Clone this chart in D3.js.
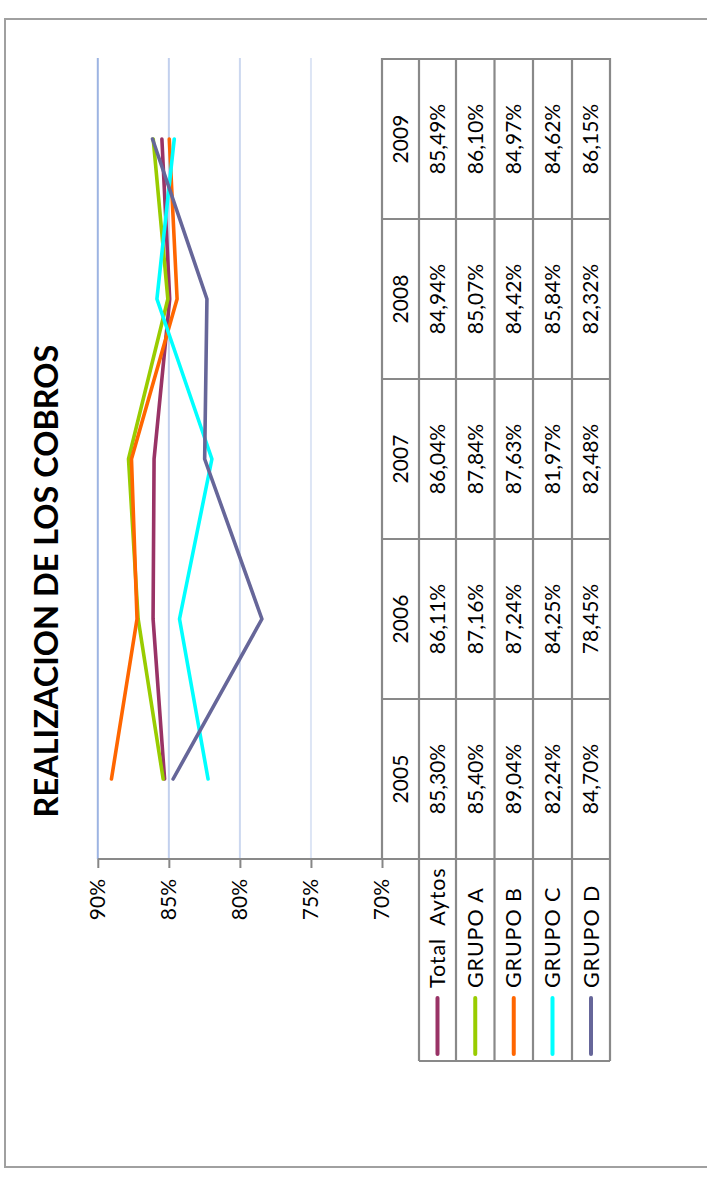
<!DOCTYPE html>
<html>
<head>
<meta charset="utf-8">
<script src="https://cdn.jsdelivr.net/npm/d3@7"></script>
<style>
  html, body { margin: 0; padding: 0; background: #ffffff; }
  svg { display: block; }
  text { font-family: Lato, "Open Sans", sans-serif; fill: #000; }
  .leg { white-space: pre; }
</style>
</head>
<body>
<svg id="chart" width="707" height="1178"></svg>
<script>
// ---- data ----
const years = ["2005", "2006", "2007", "2008", "2009"];
const seriesNames = ["Total  Aytos", "GRUPO A", "GRUPO B", "GRUPO C", "GRUPO D"];
const totalAytos = [85.30, 86.11, 86.04, 84.94, 85.49];
const grupoA = [85.40, 87.16, 87.84, 85.07, 86.10];
const grupoB = [89.04, 87.24, 87.63, 84.42, 84.97];
const grupoC = [82.24, 84.25, 81.97, 85.84, 84.62];
const grupoD = [84.70, 78.45, 82.48, 82.32, 86.15];
const tickValues = [70, 75, 80, 85, 90];
const title = "REALIZACION DE LOS COBROS";

const seriesValues = [totalAytos, grupoA, grupoB, grupoC, grupoD];
const seriesColors = ["#993366", "#99cc00", "#ff6600", "#00ffff", "#666699"];
const gridColors = {70: "#868686", 75: "#dde5f5", 80: "#ccd8f0", 85: "#c2d0ee", 90: "#9db4e2"};

const svg = d3.select("#chart");
const W = 707, H = 1178;

// whole chart is drawn unrotated, then turned 90deg counter-clockwise
const g = svg.append("g").attr("transform", `translate(0,${H}) rotate(-90)`);

// outer frame
g.append("rect")
  .attr("x", 11).attr("y", 5).attr("width", 1148).attr("height", 760)
  .attr("fill", "#fff").attr("stroke", "#a0a0a0").attr("stroke-width", 2);

// scales
const x = d3.scaleBand().domain(years).range([319, 1119]).padding(0);
const y = d3.scaleLinear().domain([70, 90]).range([382, 97.8]);

// gridlines
g.append("g").selectAll("line").data(tickValues.filter(t => t !== 70)).join("line")
  .attr("x1", 319).attr("x2", 1120)
  .attr("y1", d => y(d)).attr("y2", d => y(d))
  .attr("stroke", d => gridColors[d]).attr("stroke-width", 2);

// value axis
const yAxis = d3.axisLeft(y).tickValues(tickValues).tickSize(9).tickPadding(11)
  .tickFormat(d => d + "%");
const ya = g.append("g").attr("transform", "translate(319,0)").call(yAxis);
ya.select(".domain").remove();
ya.selectAll(".tick line").attr("stroke", "#868686").attr("stroke-width", 2);
ya.selectAll(".tick text").attr("font-size", 21).attr("font-family", "Lato").attr("fill", "#000");

// series lines
const line = d3.line()
  .x((d, i) => x(years[i]) + x.bandwidth() / 2)
  .y(d => y(d));
g.append("g").selectAll("path").data(seriesValues).join("path")
  .attr("d", d => line(d))
  .attr("fill", "none")
  .attr("stroke", (d, i) => seriesColors[i])
  .attr("stroke-width", 3.6)
  .attr("stroke-linejoin", "round")
  .attr("stroke-linecap", "round");

// ---- data table ----
const rowEdges = [382, 419, 456, 494.5, 533, 572, 610];
const tableStroke = "#898989";
const tg = g.append("g");
tg.append("line").attr("x1", 319).attr("x2", 1120).attr("y1", 382).attr("y2", 382)
  .attr("stroke", tableStroke).attr("stroke-width", 2.2);
tg.selectAll("line.row").data(rowEdges.slice(1)).join("line").attr("class", "row")
  .attr("x1", 117).attr("x2", 1120).attr("y1", d => d).attr("y2", d => d)
  .attr("stroke", tableStroke).attr("stroke-width", 2.2);
const bounds = years.map(yr => x(yr)).concat([x(years[years.length - 1]) + x.bandwidth()]);
tg.selectAll("line.col").data(bounds).join("line").attr("class", "col")
  .attr("x1", d => d).attr("x2", d => d)
  .attr("y1", (d, i) => i === 0 ? y(90) : 382).attr("y2", 610)
  .attr("stroke", tableStroke).attr("stroke-width", 2.2);
tg.append("line").attr("x1", 117).attr("x2", 117).attr("y1", 419).attr("y2", 610)
  .attr("stroke", tableStroke).attr("stroke-width", 2.2);

// header row: years
tg.selectAll("text.yr").data(years).join("text").attr("class", "yr")
  .attr("x", d => x(d) + x.bandwidth() / 2)
  .attr("y", (rowEdges[0] + rowEdges[1]) / 2)
  .attr("dy", "0.35em")
  .attr("text-anchor", "middle")
  .attr("font-size", 21)
  .text(d => d);

// values
const fmt = v => v.toFixed(2).replace(".", ",") + "%";
seriesValues.forEach((vals, si) => {
  const cy = (rowEdges[si + 1] + rowEdges[si + 2]) / 2;
  tg.append("g").selectAll("text").data(vals).join("text")
    .attr("x", (d, i) => x(years[i]) + x.bandwidth() / 2)
    .attr("y", cy)
    .attr("dy", "0.35em")
    .attr("text-anchor", "middle")
    .attr("font-size", 21)
    .text(d => fmt(d));
  // legend key
  tg.append("line")
    .attr("x1", 124).attr("x2", 180).attr("y1", cy).attr("y2", cy)
    .attr("stroke", seriesColors[si]).attr("stroke-width", 4)
    .attr("stroke-linecap", "round");
  tg.append("text").attr("class", "leg")
    .attr("x", 190).attr("y", cy).attr("dy", "0.35em")
    .attr("font-size", 21.5)
    .attr("letter-spacing", 0.9)
    .text(seriesNames[si]);
});

// title
const t = g.append("text")
  .attr("x", 597).attr("y", 58)
  .attr("text-anchor", "middle")
  .attr("font-weight", 700)
  .attr("font-size", 30)
  .text(title);
const len = t.node().getComputedTextLength();
if (len > 0) t.attr("font-size", 30 * 473 / len);
</script>
</body>
</html>
